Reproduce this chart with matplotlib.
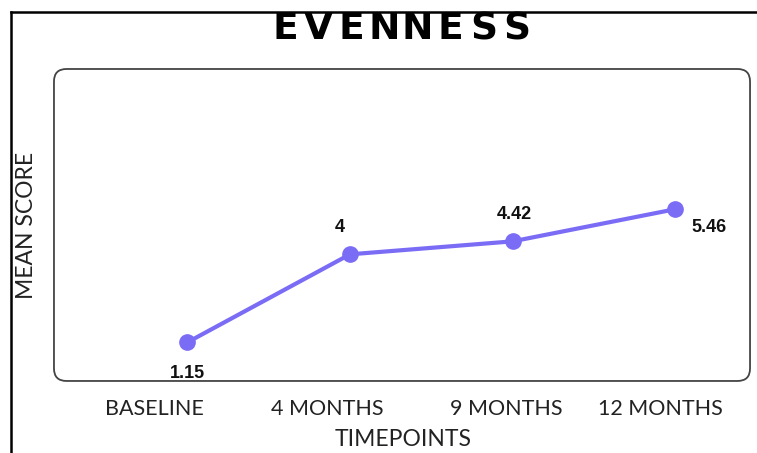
import matplotlib.pyplot as plt
from matplotlib.patches import FancyBboxPatch
from matplotlib.lines import Line2D
from matplotlib.transforms import ScaledTranslation

# dati
timepoints = ['BASELINE', '4 MONTHS', '9 MONTHS', '12 MONTHS']
mean_score = [1.15, 4, 4.42, 5.46]
value_labels = ['1.15', '4', '4.42', '5.46']
title = 'EVENNESS'

line_color = '#7B6CF6'

fig = plt.figure(figsize=(7.57, 4.53), dpi=100)
ax = fig.add_axes([0.0713, 0.159, 0.9195, 0.6887])

x = list(range(len(timepoints)))
ax.plot(x, mean_score, color=line_color, lw=3, marker='o', ms=11,
        solid_capstyle='round', zorder=3)

# etichette dei valori (posizioni come nell'originale)
offsets = [(0, -16, 'top'), (-7, 13, 'bottom'), (1, 13, 'bottom'), (24, -7, 'top')]
for xi, yi, lab, (dx, dy, va) in zip(x, mean_score, value_labels, offsets):
    ax.annotate(lab, (xi, yi), xytext=(dx, dy), textcoords='offset points',
                ha='center', va=va, fontsize=13, fontweight='bold',
                family='Liberation Sans', color='#111111')

ax.set_xlim(-0.82, 3.46)
ax.set_ylim(-0.1, 10.0)
ax.set_yticks([])
ax.set_xticks(x)
ax.set_xticklabels(timepoints, family='Lato', fontsize=15.5, color='#222222')
ax.tick_params(axis='x', length=0, pad=13)
shift = [-33, -23, -6, -15]
for lbl, s in zip(ax.get_xticklabels(), shift):
    lbl.set_transform(lbl.get_transform() + ScaledTranslation(s / 100, 0, fig.dpi_scale_trans))

for sp in ax.spines.values():
    sp.set_visible(False)

# riquadro arrotondato
asp = (0.9195 * 757) / (0.6887 * 453)
box = FancyBboxPatch((0, 0), 1, 1, boxstyle='round,pad=0,rounding_size=0.018',
                     mutation_aspect=asp, transform=ax.transAxes,
                     fill=False, ec='#444444', lw=1.3, clip_on=False)
ax.add_patch(box)

ax.set_ylabel('MEAN SCORE', family='Lato', fontsize=16.5, color='#222222', labelpad=12)
fig.text(0.532, 0.03, 'TIMEPOINTS', family='Lato', fontsize=16.5,
         color='#222222', ha='center', va='center')

# titolo con lettere spaziate
x0, step = 285.5 / 757, 33 / 757
for i, ch in enumerate(title):
    fig.text(x0 + i * step, 0.935, ch, family='DejaVu Sans', fontweight='bold',
             fontsize=27, ha='center', va='center', color='black')

# cornice esterna
fig.add_artist(Line2D([11 / 757, 1], [1 - 12 / 453, 1 - 12 / 453], color='black', lw=1.8))
fig.add_artist(Line2D([11 / 757, 11 / 757], [0, 1 - 12 / 453], color='black', lw=1.8))

fig.savefig('out.png', dpi=100)
